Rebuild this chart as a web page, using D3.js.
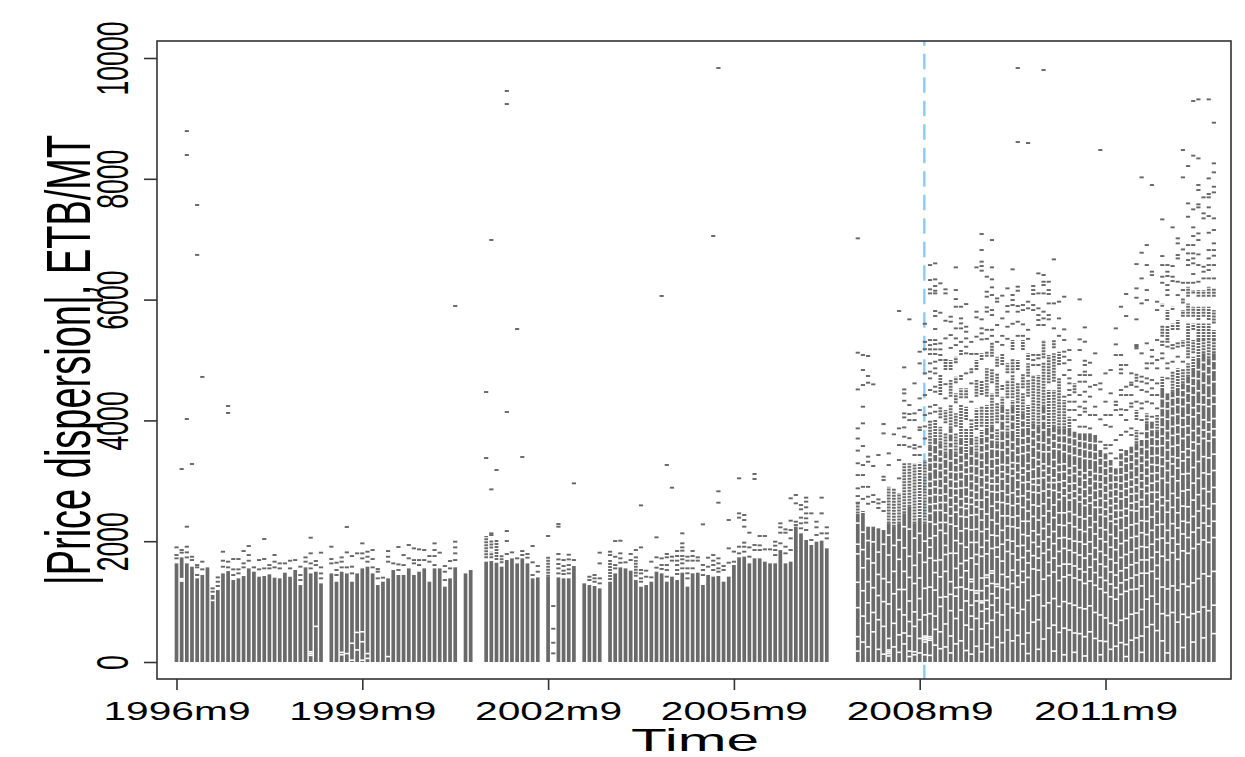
<!DOCTYPE html>
<html><head><meta charset="utf-8">
<script src="https://cdn.jsdelivr.net/npm/d3@7/dist/d3.min.js"></script>
<style>html,body{margin:0;padding:0;background:#fff}svg{display:block}
text{font-family:"Liberation Sans",Arial,sans-serif;fill:#000}</style></head><body><div id="c"></div>
<script>
const tickMonths=[0,36,72,108,144,180];
const tickLabels=["1996m9","1999m9","2002m9","2005m9","2008m9","2011m9"];
const yTicks=[0,2000,4000,6000,8000,10000];
const breakMonth=144.9;
const yTitle="|Price dispersion|, ETB/MT", xTitle="Time";
// height of the dense part of each monthly column (month 0 = 1996m9); null = no column
const solidTop=[1633,1732,1633,1578,1385,1440,1567,1109,1191,1467,1506,1357,1385,1423,1550,1495,1412,1423,1451,1396,1385,1478,1412,1523,1274,1567,1467,1495,1302,null,
1467,1329,1495,1467,1329,1467,1550,1578,1467,1274,1329,1385,1523,1440,1440,1550,1440,1495,1550,1329,1550,1550,1247,1385,1567,null,1467,1523,null,null,
1661,1672,1644,1578,1688,1716,1633,1716,1633,1385,1401,null,1412,null,1401,1385,1385,1589,null,1302,1274,1258,1219,null,1329,1467,1567,1550,1512,1357,1247,1274,
1330,1495,1468,1330,1413,1357,1479,1247,1468,1479,1275,1440,1413,1424,1330,1413,1606,1733,1744,1633,1716,1716,1661,1633,1633,1854,1633,1661,2241,2130,2020,1937,1992,2009,1882,
null,null,null,null,null,
2450,2433,2240,2240,2213,2185,2295,2240,2295,2461,2571,2295,2350,2295,
3565,3675,3620,3454,3868,3454,3675,3427,3675,3454,3675,3841,3896,3620,4227,3785,4227,3675,4117,3841,3951,3896,4227,3841,3896,3868,3868,3841,3813,3785,3785,3785,3758,3509,3454,3344,3206,3454,3509,3565,3620,3675,3951,3979,3813,4503,4448,4475,4503,4613,4724,4834,5000,5110,5027,5110];
// broken runs of dashes above the dense part: [month, low, high]
const stacks=[[60,1716,2086],[61,1881,2030],[61,1716,1826],[62,1688,2030],[63,1633,1771],[72,1412,1743],[84,1357,1688],[89,1412,1688],
[132,2460,2640],[133,2433,2500],[138,2295,2900],[139,2240,2875],[140,2295,2800],[141,2461,3289],[142,2571,3289],[143,2295,3289],[144,2350,3300],[145,2295,3344],
[146,3565,3951],[147,3675,4006],[148,4420,4751],[148,4034,4227],[148,3620,3896],[149,4834,5000],[149,3951,4172],[149,3454,3785],[150,4834,5000],[150,4393,4669],[150,3868,4255],
[151,4945,5055],[151,4613,4724],[151,4282,4448],[151,3896,4117],[151,3454,3785],[152,5083,5165],[152,4669,4751],[152,4365,4531],[152,3675,4255],[153,4365,4531],[153,4006,4227],[153,3427,3868],
[154,4779,4862],[154,3675,3951],[155,4834,5000],[155,4393,4669],[155,3841,4199],[155,3454,3730],[156,5000,5110],[156,4420,4669],[156,3896,4227],[156,3675,3841],
[157,5055,5138],[157,4641,4862],[157,4393,4613],[157,3841,4255],[158,5055,5303],[158,4613,4862],[158,3896,4448],[159,4889,5055],[159,4393,4779],[159,3951,4282],[159,3620,3868],
[160,4917,5110],[160,4503,4586],[160,4227,4393],[161,4779,4945],[161,4365,4669],[161,3951,4199],[161,3785,3923],[162,5165,5331],[162,4779,5027],[162,4365,4751],[162,4227,4337],
[163,4834,5000],[163,4282,4613],[163,3675,4255],[164,5165,5331],[164,4531,4779],[164,4117,4448],[165,5000,5110],[165,4724,4945],[165,4393,4669],[165,3841,4255],
[166,3951,4751],[167,3896,4751],[168,5027,5331],[168,4227,4972],[169,4613,5083],[169,3841,4503],[170,5193,5331],[170,4641,5110],[170,3896,4503],[171,4917,5138],[171,3868,4696],
[172,3868,4337],[173,3841,4061],[174,4448,4613],[186,4641,4779],[186,4006,4172],[186,3620,3841],[188,3951,4117],[190,3813,4089],[191,4503,4724],[193,4475,4807],[194,4503,4862],
[195,5221,5331],[195,4613,4862],[196,5027,5331],[196,4724,4945],[197,5110,5331],[197,4834,5055],[198,5000,5331],[199,5110,5331],[200,5027,5331],[201,5110,5331],
[191,5882,5937],[191,5385,5578],[192,5661,5827],[192,5331,5578],[193,5827,5882],[193,5496,5606],[194,5496,5661],[195,5937,6020],[195,5716,5827],
[196,6048,6213],[196,5716,5937],[196,5331,5606],[197,6103,6158],[197,5716,5882],[197,5496,5606],[198,6048,6158],[198,5661,5882],[198,5331,5606],[199,6048,6158],[199,5716,5882],[199,5331,5606],
[200,6048,6213],[200,5661,5882],[200,5331,5606],[201,6048,6186],[201,5606,5827],[201,5331,5496]];
// single dashes: [month, value, value, ...]
const dashes=[[0,1898,1771,1716],[1,1854,1810,3195],[2,8790,8394,4023,2240,1909,1815,1732],[3,3278,1743,1688],[4,7566,6740,1605,1567,1440],[5,4720,1661,1534],[7,1219,1164],[8,1401,1329,1258],[9,1826,1677,1578],[10,4238,4123,1661,1567],
[11,1705,1534,1440],[12,1705,1534,1467],[13,1837,1633,1567],[14,1920,1771,1677],[15,1567],[16,1688,1534],[17,2036,1705,1550],[18,1605,1550],[19,1771,1661,1567],[20,1633,1550],[21,1633],[22,1677,1550],[23,1688],[24,1578,1440,1357],[25,1732,1661],[26,2058,1799,1633,1550],[27,1672,1605],[28,1810,1567,1467,1385],
[30,1909,1705,1633],[31,1644,1523,1440],[32,1732,1661,1567],[33,2235,1815,1567],[34,1754,1578,1467],[35,1799],[36,1964,1799,1716],[37,1826,1743,1661],[38,1854,1705,1567],[39,1539,1495,1385],[40,1396],[41,1837,1743,1661],[42,1633],[43,1904,1616,1523],[44,1771,1605],[45,1937,1716],[46,1881,1688,1633],[47,1865,1688,1605],[48,1854,1688],[49,1754,1661],[50,1964,1854,1754,1605],[51,1810],[52,1589,1495,1357],[53,1672,1550],[54,5894,1992,1898,1799,1688],
[60,4470,3377],[61,6987,2858,2130,2102],[62,3179],[64,9454,9238,4139,2168,2003,1788],[65,1815],[66,5513,1716],[67,3394,1837,1771],[68,1788,1727],[69,1920,1650,1440],[70,1589,1495],[72,2086],[73,926,551,319,143],[74,2284,2240,1788,1699,1622,1550,1467],[75,1688,1589,1512,1456],[76,1776,1699,1605,1534,1467],[77,2958,1688],[80,1412,1357],[81,1440,1385,1329],[82,1810,1633,1385,1302],[84,1826,1771],[85,2003,1743,1605,1550],[86,2008,1799,1716,1644],[87,1650],[88,1788,1688],[89,1854,1732],[90,2593,1898,1523,1467,1385,1329],[91,1512,1412],
[92,1661,1402],[93,2064,1733,1562],[94,6060,1716,1606,1540],[95,3262,1788,1733,1606,1523,1413],[96,2886,1744,1678],[97,1838,1755,1678,1606,1523,1457],[98,2130,1965,1898,1843,1755,1700,1633,1551],[99,1744,1678,1551,1468,1385],[100,1838,1755,1678,1551],[101,1733,1678],[102,2279,1606,1523,1440],[103,1727,1578],[104,7053,1771,1678,1606,1523],[105,9834,2826,2638,1716,1633,1551,1495],[106,1589,1523],[107,2351,1882,1644],[108,1827,1661],[109,3041,2461,2390,1909,1799],[110,2434,2351,2241,1976,1909,1827],[111,2141,1898,1744],[112,3113,3030,1937,1854],[113,2086,1931,1854],[114,2086,1865],[115,1865],[116,1992,1926,1854,1771],[117,2296,2230,2141,1965],[118,2196,2141,1909,1799],[119,2710,2340,2185,2047,1854],[120,2765,2627,2323,2268],[121,2599,2528,2390,2296,2213],[122,2721,2655,2561,2461,2379,2307,2185],[123,2461,2020],[124,2323,2230,2103],[125,2721,2461,2130],[126,2230,2130,2047],
[132,7014,5121,4513,3868,3700,3500,3290,3095,2875,2747,2637],[133,5083,4834,4586,4227,3951,3575,3261,3095,2900,2700],[134,5066,4735,4624,3400,3316,2900,2737,2620],[135,4597,3245,2764,2650],[136,3427,2692,2626,2550],[137,3940,3785,3068,3013,2650,2500],[138,3454,3261],[139,3769],[140,5811,3868,3592,3344,3040],[141,4878,4513,4447,4326,4116,4050,3884,3730,3592],[142,5673,4254,4105,4005,3705,3564],[143,4613,4116,4005,3592,3537,3427],[144,5137,4944,4364,4172,3884,3840,3564,3427],[145,5600,5300,5180,4779,4420,4089,3900,3700],
[146,6572,6324,6170,6103,5330,5247,5176,5099,4945,4807,4696,4503,4227,4117,3979],[147,6600,6335,6225,6147,6103,5811,5728,5513,5330,5264,5176,5099,4972,4862,4779,4558,4475,4255,4144],[148,6269,5783,5275,5176,5083,5000],[149,6170,6103,5650,5358,5000,4600,4365],[150,5717,5634,5413,5200],[151,6534,6158,6009,5882,5524,5358,5247],[152,5882,5689,5606,5524,5300],[153,5926,5551,5468,5358,5220,5110,4779],[154,5300,5100,4613,4310,4000],[155,6534,5800,5706,5386,5100],[156,7086,6821,6628,6556,6479,5673,5524,5441,5341],[157,6379,6131,6048,5871,5800,5500,5350],[158,6986,6534,6335,6203,6076,5827,5744,5500,5400],[159,6020,5965,5579,5300],[160,6065,5689,5400,5250],[161,6186,5893,5800,5551,5350],[162,6501,6076,5993,5910,5600],[163,9834,8609,6214,6147,5893,5800,5634,5400],[164,5910,5827,5590,5400],[165,8592,5965,5855,5500,5350],
[166,6225,6158,6092,5910,5827,5083,5000,4917],[167,6434,6103,5855,5744,5662,5579,5083,5027,4917],[168,9801,6407,6296,6241,6103,5800,5689,5579],[169,6296,6158,6092,5937,5744,5673],[170,6666,5937,5524],[171,5965,5689,5400],[172,6048,5507,5331,5138,5055,4945,4751,4393],[173,5165,4999,4834,4696,4613,4503,4420,4310,4172],[174,4310,4172,4006],[175,6004,5342,5165,4751,4641,4420,4227,4089,3896],[176,5540,5303,4988,4917,4807,4751,4641,4475,4310,4199,4144,3896],[177,4955,4750,4558,4393,4089,3868],[178,5110,4586,4227,4089],[179,8477,4613,4514,4018,3647],[180,4778,4310,4089,3923,3592,3537],[181,4834,4448,4089,3896,3592,3454],[182,5524,5259,5082,4310,4255,4172,3675,3371],[183,5882,5083,4917,4845,4779,4503,4420,4183,4089,3758,3509],[184,6092,5728,4917,4558,4420,4172,4006,3813],[185,4779,4625,4586,4420,4282,4227,3868,3758],[186,6588,6186,6031,5673,5220,5248,5193,4558,4310],[187,8024,6776,6351,5937,5110,4724,4641,4503,4282,4199,4006,3785],[188,6903,6572,6158,5992,5276,4945,4862,4696,4613,4475,4310],[189,7897,6462,6406,5165,5055,4945,4669,4531,4420,4282,4061],[190,5965,5827,5331,5000,4862,4613,4420,4199],[191,7328,6721,6572,6379,6279,5303,5248,5110,5027],[192,6572,6462,6390,6241,6158,6075,5303,5221,4945,4862,4696],[193,7196,6555,6379,6307,5248,5193,4972],[194,7014,6931,6738,6682,6296,6075,5276,5221,5055],[195,8476,8024,6831,6279,6158,4972],[196,8211,7593,7372,6903,6765,6655,6572,6279],[197,9288,8383,7494,7196,7052,6903,6765,6682,6600,6423,6279],[198,9315,8338,7897,7814,7577,7527,7096,6986,6749,6572,6296],[199,7693,7428,7345,6544,6462,6351],[200,9315,8007,7748,7693,7527,7383,7107,6820,6682,6572,6489,6351],[201,8929,8256,8107,7869,7775,7345,7152,6931,6820,6727,6572,6351]];
// thin empty bands inside the dense columns: [month, value, value, ...]
const breaksIn=[[1,1380,1360,1340],[7,1020],[26,170,140,110],[27,590],[32,160,120],[33,140],[34,310,30],[35,200,490],[36,500,335,30],[37,140,60],[41,90],
[132,2300,1950,1790,1320,900,420,180],[133,2150,1860,1560,1180,760,330],[134,2010,1710,1330,980,640,250],[135,1990,1640,1230,820,500],[136,1820,1450,1100,700,210],[137,1950,1380,1000,590,130],[138,2100,1770,1320,960,390,200,170,140,100],[139,1930,1500,1130,640,250],[140,2020,1700,1200,870,450,160],
[141,2240,1890,1500,1200,780,480,300],[142,2200,1750,1400,1010,670,430,180,90],[143,2050,1600,1300,830,590,170,120],[144,2130,1810,1390,1050,700,390,150],[145,2000,1650,1220,780,430,400,370,330,120],
[146,3300,2880,2460,2050,1720,1240,800,420,390,360,110],[147,3310,2900,2510,2090,1680,1190,760,540,280],[148,3400,3030,2640,2180,1690,1410,920,500,220],[149,3200,2780,2310,1930,1500,1080,630,250],[150,3640,3150,2720,2280,1800,1330,850,430,150],[151,3260,2870,2480,2010,1550,1090,720,300],[152,3430,3020,2560,2170,1630,1240,860,350],[153,3220,2740,2400,1900,1510,1010,610,190],[154,3410,2990,2610,2190,1720,1370,1330,940,540,130],[155,3240,2810,2440,1980,1620,1180,1140,720,260],
[156,3470,3060,2530,2160,1750,1390,1010,980,550,170],[157,3620,3100,2730,2200,1790,1440,1400,1020,640,300],[158,3680,3200,2820,2350,1880,1510,1470,1130,690,240],[159,3380,2950,2510,2090,1740,1290,1250,820,410],[160,3990,3510,3030,2640,2180,1670,1230,780,320],[161,3560,3110,2770,2250,1830,1410,960,530],[162,3980,3500,3080,2590,2240,1790,1300,900,350],[163,3430,3010,2620,2220,1690,1240,810,440],[164,3880,3450,2970,2560,2110,1730,1320,870,300],[165,3610,3160,2690,2330,1840,1400,1020,480,140],
[166,3700,3190,2810,2410,1980,1540,1090,660],[167,3640,3240,2800,2350,1910,1520,1110,700,210],[168,3990,3480,3050,2620,2210,1800,1370,930,380],[169,3590,3100,2720,2280,1860,1430,980,560],[170,3660,3210,2840,2390,1960,1490,1050,610,180],[171,3630,3140,2690,2270,1830,1350,920,490],[172,3620,3150,2750,2260,1880,1410,1000,560,120],[173,3600,3090,2680,2300,1850,1440,970,530],[174,3570,3120,2710,2240,1810,1390,940,480,160],[175,3540,3070,2650,2190,1770,1360,900,470],
[176,3520,3010,2590,2160,1720,1300,880,420,100],[177,3500,3060,2630,2230,1790,1340,930,500],[178,3480,2990,2560,2120,1700,1270,820,390],[179,3250,2860,2440,2040,1620,1210,780,350,120],[180,3210,2800,2410,1990,1580,1150,730,340],[181,3120,2710,2330,1900,1490,1080,640,210],[182,2980,2620,2280,1860,1440,1040,610,260],[183,3230,2830,2390,1960,1510,1120,690,320],[184,3290,2870,2420,2010,1560,1170,720,290,90],[185,3310,2900,2510,2060,1610,1200,790,360],
[186,3370,2930,2500,2080,1640,1210,810,400],[187,3420,3000,2570,2140,1690,1260,870,430,160],[188,3690,3220,2790,2330,1900,1470,1040,580],[189,3720,3270,2810,2400,1950,1500,1090,620],[190,3570,3130,2690,2270,1820,1380,960,520],[191,4200,3740,3240,2730,2280,1750,1240,800,350],[192,4190,3670,3170,2670,2180,1690,1210,770,150],[193,4230,3750,3280,2790,2290,1810,1260,820],[194,4260,3770,3210,2720,2220,1700,1190,660],[195,4380,3890,3330,2830,2330,1840,1290,790,240],[196,4450,3910,3390,2850,2310,1800,1250,740],[197,4570,4060,3500,2960,2410,1880,1310,800,330],[198,4690,4120,3610,3040,2500,1950,1380,830],[199,4810,4260,3700,3130,2590,2020,1460,910,400],[200,4760,4230,3660,3110,2540,1980,1420,850],[201,4830,4270,3720,3170,2620,2060,1500,940,470]];
// further empty bands in the broken upper part of the late columns
const upperBreaks=[[146,3480,3390,3150,2990,2750,2610,2320,1900],[147,3590,3440,3200,3020,2770,2620,2280,1480],[148,3520,3300,3170,2880,2760,2510,2310,1070],[149,3360,3090,2950,2640,2470,2130,1780],[150,3780,3540,3330,3020,2880,2570,2420,1120],[151,3380,3140,2990,2760,2620,2250,1800,1230],[152,3580,3290,3150,2880,2700,2410,1960,1400],[153,3340,3110,2890,2620,2540,2210,1680,1210],[154,3580,3250,3120,2840,2720,2430,1980,1190,760],[155,3370,3090,2950,2680,2570,2200,1780,1010],
[156,3590,3340,3200,2890,2680,2350,1900,1180,840],[157,3740,3490,3260,2970,2850,2450,2010,1260,880],[158,3790,3530,3360,3040,2950,2580,2100,1300,940],[159,3520,3250,3090,2810,2650,2290,1900,1060],[160,4110,3830,3660,3270,3150,2830,2420,1950,1450],[161,3690,3420,3260,2950,2620,2420,2020,1200],[162,4100,3840,3640,3300,3200,2800,2400,2000,1520],[163,3570,3290,3140,2860,2740,2420,1920,1430],[164,4000,3710,3590,3210,3100,2750,2330,1930,1500],[165,3740,3470,3290,2980,2830,2500,2090,1640],
[166,3840,3560,3380,3030,2940,2600,2170,1760],[167,3770,3500,3350,3040,2930,2580,2110,1720],[168,4100,3840,3630,3280,3170,2830,2420,2000],[169,3720,3480,3240,2970,2860,2500,2070,1650],[170,3790,3530,3350,3050,2970,2600,2160,1720],[171,3750,3520,3270,2980,2810,2470,2050,1590],[172,3750,3480,3280,3000,2880,2470,2060,1620],[173,3720,3450,3210,2950,2800,2490,2040,1620],[174,3700,3420,3250,2960,2830,2440,2000,1590],[175,3660,3400,3180,2900,2770,2400,1990,1540],
[176,3650,3370,3130,2860,2710,2370,1950,1490],[177,3630,3360,3180,2920,2760,2420,1990,1570],[178,3620,3340,3120,2840,2680,2320,1890,1480],[179,3380,3110,2980,2710,2560,2220,1830,1400],[180,3340,3080,2930,2670,2530,2190,1770,1350],[181,3240,2970,2840,2590,2450,2110,1700,1290],[182,3090,2860,2740,2510,2370,2050,1640,1230],[183,3340,3100,2960,2700,2510,2180,1730,1310],[184,3400,3130,2990,2730,2540,2220,1780,1360],[185,3440,3170,3020,2780,2630,2270,1820,1390],
[186,3490,3240,3060,2790,2650,2290,1880,1440],[187,3560,3290,3130,2860,2690,2340,1910,1470],[188,3820,3520,3350,3080,2920,2570,2110,1690],[189,3850,3580,3410,3120,2960,2620,2180,1730],[190,3690,3420,3260,2990,2810,2490,2030,1600],[191,4360,4050,3890,3580,3390,3040,2590,2050],[192,4320,4020,3830,3510,3330,2970,2480,1970],[193,4370,4080,3900,3570,3400,3070,2560,2050],[194,4390,4100,3920,3590,3380,3000,2470,1950],[195,4500,4230,4040,3700,3480,3110,2580,2120],
[196,4600,4290,4090,3760,3530,3120,2570,2060],[197,4700,4420,4210,3830,3640,3220,2680,2150],[198,4840,4490,4270,3900,3750,3320,2770,2220],[199,4960,4620,4420,4010,3840,3400,2870,2300],[200,4900,4580,4370,3970,3810,3380,2820,2250],[201,4980,4640,4410,4030,3860,3440,2890,2330]];

const W=1245,H=757,boxL=157,boxR=1231,boxT=41,boxB=679;
const x=d3.scaleLinear().domain([0,36]).range([176.5,362.3]);
const y=d3.scaleLinear().domain([0,10000]).range([662,58]);
const svg=d3.select("#c").append("svg").attr("width",W).attr("height",H).style("background","#fff");
const INK="#6a6a6a",colW=3.7,dashW=4.2,dashH=1.9;
const plot=svg.append("g").style("filter","blur(0.35px)");
plot.append("line").attr("x1",x(breakMonth)).attr("x2",x(breakMonth)).attr("y1",boxT).attr("y2",boxB)
 .attr("stroke","#8ec9f2").attr("stroke-width",2.4).attr("stroke-dasharray","15.5,8").attr("stroke-dashoffset",10.8);
const cols=solidTop.map((v,m)=>({m,v})).filter(d=>d.v!==null);
plot.append("g").selectAll("rect").data(cols).join("rect")
 .attr("x",d=>x(d.m)-colW/2).attr("width",colW).attr("y",d=>y(d.v)).attr("height",d=>y(0)-y(d.v)).attr("fill",INK);
plot.append("g").selectAll("line").data(stacks).join("line")
 .attr("x1",d=>x(d[0])).attr("x2",d=>x(d[0])).attr("y1",d=>y(d[1])).attr("y2",d=>y(d[2]))
 .attr("stroke",INK).attr("stroke-width",colW).attr("stroke-dasharray","2,1");
const flat=a=>a.flatMap(r=>r.slice(1).map(v=>({m:r[0],v})));
plot.append("g").selectAll("rect").data(flat(dashes)).join("rect")
 .attr("x",d=>x(d.m)-dashW/2).attr("width",dashW).attr("y",d=>y(d.v)-dashH/2).attr("height",dashH).attr("fill","#666");
plot.append("g").selectAll("rect").data(flat(breaksIn).concat(flat(upperBreaks))).join("rect")
 .attr("x",d=>x(d.m)-colW/2-.3).attr("width",colW+.6).attr("y",d=>y(d.v)-.8).attr("height",1.6).attr("fill","#fff");
svg.append("rect").attr("x",boxL).attr("y",boxT).attr("width",boxR-boxL).attr("height",boxB-boxT)
 .attr("fill","none").attr("stroke","#333").attr("stroke-width",1.6);
const ax=svg.append("g").attr("transform",`translate(0,${boxB})`)
 .call(d3.axisBottom(x).tickValues(tickMonths).tickFormat((d,i)=>tickLabels[i]).tickSize(11).tickSizeOuter(0));
ax.select(".domain").remove();
ax.selectAll("line").attr("stroke","#333").attr("stroke-width",1.6);
ax.selectAll("text").attr("y",0).attr("dy",0).attr("font-size",25.6).style("font-family",'"Liberation Sans",Arial,sans-serif').attr("transform","translate(0,41) scale(1.59,1)");
const ay=svg.append("g").attr("transform",`translate(${boxL},0)`)
 .call(d3.axisLeft(y).tickValues(yTicks).tickFormat(d3.format("d")).tickSize(13).tickSizeOuter(0));
ay.select(".domain").remove();
ay.selectAll("line").attr("stroke","#333").attr("stroke-width",1.6);
ay.selectAll("text").attr("x",0).attr("y",0).attr("dy",0).attr("text-anchor","middle").attr("font-size",26.6).style("font-family",'"Liberation Sans",Arial,sans-serif').attr("transform","translate(-29,0) rotate(-90) scale(1,1.65)");
svg.append("text").attr("text-anchor","middle").attr("font-size",30.5).attr("transform","translate(695,750.5) scale(1.92,1)").text(xTitle);
svg.append("text").attr("text-anchor","middle").attr("font-size",38).attr("transform","translate(90,360) rotate(-90) scale(1,1.65)").text(yTitle);
</script></body></html>
